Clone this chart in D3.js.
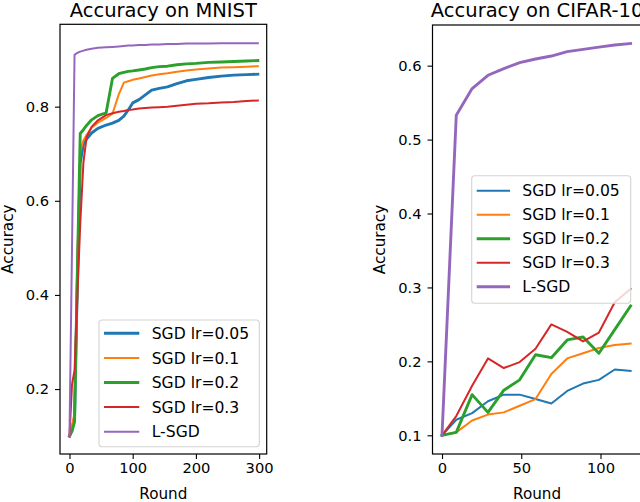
<!DOCTYPE html>
<html><head><meta charset="utf-8">
<script src="https://cdn.jsdelivr.net/npm/d3@7"></script>
<style>
html,body{margin:0;padding:0;background:#fff;}
text{font-family:"DejaVu Sans",sans-serif;fill:#000;}
</style></head>
<body><svg id="c" width="640" height="502"></svg>
<script>
// ---------- data ----------
const seriesNames = ["SGD lr=0.05","SGD lr=0.1","SGD lr=0.2","SGD lr=0.3","L-SGD"];
const seriesColors = ["#1f77b4","#ff7f0e","#2ca02c","#d62728","#9467bd"];

const mnistRounds = [0,4,8,12,17,22,27,35,45,58,68,78,86,93,100,110,120,130,142,155,170,185,200,220,240,260,280,298];
const mnistLr005 = [0.10,0.115,0.14,0.40,0.68,0.72,0.731,0.744,0.754,0.761,0.765,0.771,0.780,0.793,0.808,0.815,0.825,0.835,0.839,0.842,0.849,0.855,0.858,0.862,0.865,0.867,0.868,0.869];
const mnistLr01  = [0.10,0.12,0.15,0.45,0.705,0.728,0.740,0.755,0.766,0.776,0.785,0.826,0.851,0.854,0.857,0.860,0.863,0.866,0.869,0.871,0.874,0.877,0.879,0.881,0.883,0.884,0.885,0.886];
const mnistLr02  = [0.10,0.11,0.13,0.42,0.743,0.751,0.760,0.772,0.781,0.787,0.860,0.870,0.873,0.875,0.876,0.878,0.880,0.883,0.885,0.886,0.889,0.891,0.892,0.894,0.895,0.896,0.897,0.898];
const mnistLr03  = [0.10,0.21,0.24,0.38,0.55,0.68,0.735,0.757,0.771,0.782,0.786,0.789,0.791,0.793,0.794,0.796,0.797,0.798,0.799,0.800,0.802,0.804,0.806,0.807,0.809,0.810,0.812,0.813];
const mnistLSGD  = [0.10,0.50,0.91,0.914,0.917,0.919,0.921,0.923,0.925,0.926,0.927,0.928,0.929,0.930,0.930,0.931,0.931,0.932,0.932,0.933,0.933,0.934,0.934,0.934,0.935,0.935,0.935,0.935];

const cifarRounds = [0,9,19,29,39,49,59,69,79,89,99,109,119];
const cifarLr005 = [0.10,0.121,0.130,0.146,0.155,0.155,0.149,0.143,0.160,0.170,0.175,0.189,0.187];
const cifarLr01  = [0.10,0.104,0.120,0.128,0.131,0.140,0.149,0.183,0.204,0.211,0.218,0.222,0.224];
const cifarLr02  = [0.10,0.104,0.155,0.131,0.161,0.175,0.209,0.205,0.229,0.233,0.211,0.243,0.275];
const cifarLr03  = [0.10,0.126,0.167,0.204,0.191,0.199,0.217,0.250,0.240,0.227,0.239,0.280,0.298];
const cifarLSGD  = [0.10,0.533,0.569,0.587,0.596,0.604,0.609,0.613,0.619,0.622,0.625,0.628,0.630];

const mnistXTicks = [0,100,200,300];
const mnistYTicks = [0.2,0.4,0.6,0.8];
const cifarXTicks = [0,50,100];
const cifarYTicks = [0.1,0.2,0.3,0.4,0.5,0.6];

// ---------- drawing ----------
const svg = d3.select("#c");
const FONT = '"DejaVu Sans", sans-serif';

function panel(cfg){
  const g = svg.append("g");
  const x = d3.scaleLinear().domain(cfg.xDomain).range([cfg.left, cfg.right]);
  const y = d3.scaleLinear().domain(cfg.yDomain).range([cfg.bottom, cfg.top]);

  const clipId = "clip" + cfg.id;
  svg.append("clipPath").attr("id", clipId).append("rect")
    .attr("x", cfg.left).attr("y", cfg.top)
    .attr("width", cfg.right - cfg.left).attr("height", cfg.bottom - cfg.top);

  const line = d3.line().x(d => x(d[0])).y(d => y(d[1]));
  const lines = g.append("g").attr("clip-path", `url(#${clipId})`);
  cfg.series.forEach((vals, i) => {
    lines.append("path")
      .datum(cfg.rounds.map((r, k) => [r, vals[k]]))
      .attr("d", line)
      .attr("fill", "none")
      .attr("stroke", seriesColors[i])
      .attr("stroke-width", cfg.widths[i])
      .attr("stroke-linejoin", "round")
      .attr("stroke-linecap", "square");
  });

  // axes
  const xa = g.append("g").attr("transform", `translate(0,${cfg.bottom})`)
    .call(d3.axisBottom(x).tickValues(cfg.xTicks).tickFormat(d3.format("d")).tickSize(5).tickPadding(4));
  const ya = g.append("g").attr("transform", `translate(${cfg.left},0)`)
    .call(d3.axisLeft(y).tickValues(cfg.yTicks).tickFormat(d3.format(".1f")).tickSize(5).tickPadding(6));
  [xa, ya].forEach(a => {
    a.select(".domain").remove();
    a.selectAll(".tick line").attr("stroke", "#000").attr("stroke-width", 1.1);
    a.selectAll(".tick text").attr("font-family", FONT).attr("font-size", "14.7px").attr("fill", "#000");
  });

  // frame
  g.append("rect").attr("x", cfg.left).attr("y", cfg.top)
    .attr("width", cfg.right - cfg.left).attr("height", cfg.bottom - cfg.top)
    .attr("fill", "none").attr("stroke", "#000").attr("stroke-width", 1.2);

  // title & labels
  g.append("text").attr("x", (cfg.left + cfg.right) / 2).attr("y", 17)
    .attr("text-anchor", "middle").attr("font-size", "19.5px").attr("font-family", FONT)
    .text(cfg.title);
  g.append("text").attr("x", (cfg.left + cfg.right) / 2).attr("y", 498.5)
    .attr("text-anchor", "middle").attr("font-size", "15.2px").attr("font-family", FONT)
    .text("Round");
  g.append("text")
    .attr("transform", `translate(${cfg.ylabX},${(cfg.top + cfg.bottom) / 2}) rotate(-90)`)
    .attr("text-anchor", "middle").attr("font-size", "15.2px").attr("font-family", FONT)
    .text("Accuracy");

  // legend
  const L = cfg.legend;
  const lg = g.append("g");
  lg.append("rect").attr("x", L.x).attr("y", L.y).attr("width", L.w).attr("height", L.h)
    .attr("rx", 3).attr("fill", "#fff").attr("fill-opacity", 0.8)
    .attr("stroke", "#d4d4d4").attr("stroke-width", 1.1);
  seriesNames.forEach((n, i) => {
    const yy = L.row0 + i * L.step;
    lg.append("line").attr("x1", L.lx1).attr("x2", L.lx2).attr("y1", yy).attr("y2", yy)
      .attr("stroke", seriesColors[i]).attr("stroke-width", cfg.widths[i]);
    lg.append("text").attr("x", L.tx).attr("y", yy).attr("dy", "0.36em")
      .attr("font-size", "15.6px").attr("font-family", FONT).text(n);
  });
}

panel({
  id: "m", title: "Accuracy on MNIST",
  left: 60, right: 266.7, top: 24.3, bottom: 454,
  xDomain: [-15, 312], yDomain: [0.062, 0.975],
  rounds: mnistRounds,
  series: [mnistLr005, mnistLr01, mnistLr02, mnistLr03, mnistLSGD],
  widths: [2.9, 2.0, 2.9, 2.0, 2.0],
  xTicks: mnistXTicks, yTicks: mnistYTicks,
  ylabX: 13,
  legend: {x: 99, y: 320, w: 160.3, h: 126.7, row0: 333.3, step: 24.6, lx1: 104, lx2: 139.3, tx: 151.7}
});

panel({
  id: "c", title: "Accuracy on CIFAR-10",
  left: 432.5, right: 641.7, top: 25, bottom: 454,
  xDomain: [-6, 126], yDomain: [0.0747, 0.655],
  rounds: cifarRounds,
  series: [cifarLr005, cifarLr01, cifarLr02, cifarLr03, cifarLSGD],
  widths: [2.0, 2.0, 2.9, 2.0, 2.9],
  xTicks: cifarXTicks, yTicks: cifarYTicks,
  ylabX: 385,
  legend: {x: 471.7, y: 175.7, w: 159, h: 127.6, row0: 190.7, step: 24.0, lx1: 476.7, lx2: 510, tx: 522.3}
});
</script></body></html>
